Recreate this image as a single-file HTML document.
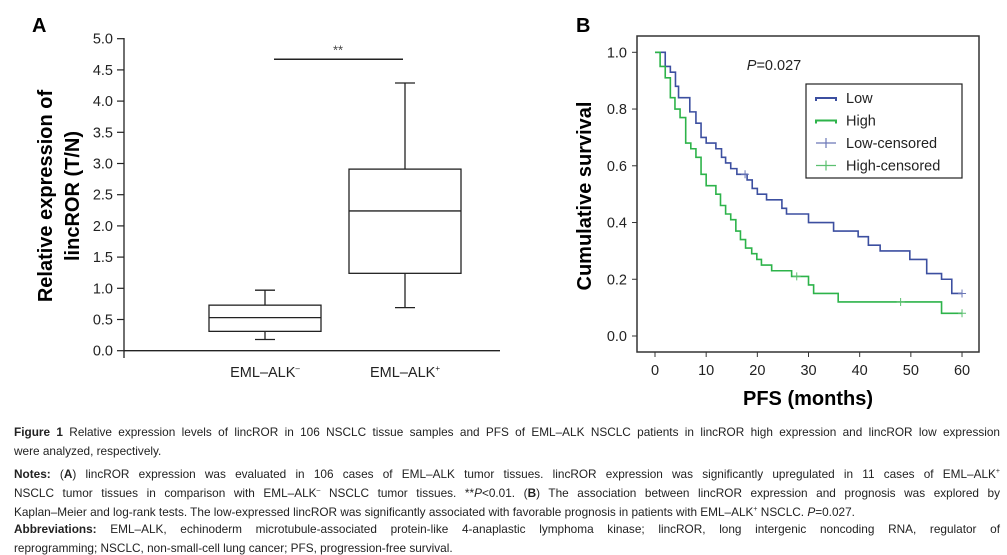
<!DOCTYPE html>
<html><head><meta charset="utf-8"><style>
body{margin:0;width:1007px;height:555px;background:#fff;overflow:hidden;position:relative;font-family:"Liberation Sans",sans-serif}
svg{position:absolute;left:0;top:0}
.cap{position:absolute;left:14px;width:986px;font-size:11.8px;color:#222;white-space:nowrap;line-height:14px}
.j{text-align:justify;text-align-last:justify;white-space:normal}
</style></head><body>
<svg id="chart" width="1007" height="415"></svg>
<div class="cap j" style="top:425px"><b>Figure 1</b> Relative expression levels of lincROR in 106 NSCLC tissue samples and PFS of EML–ALK NSCLC patients in lincROR high expression and lincROR low expression</div>
<div class="cap" style="top:444px">were analyzed, respectively.</div>
<div class="cap j" style="top:465px"><b>Notes:</b> (<b>A</b>) lincROR expression was evaluated in 106 cases of EML–ALK tumor tissues. lincROR expression was significantly upregulated in 11 cases of EML–ALK<sup style="font-size:7px">+</sup></div>
<div class="cap j" style="top:484px">NSCLC tumor tissues in comparison with EML–ALK<sup style="font-size:7px">–</sup> NSCLC tumor tissues. **<i>P</i>&lt;0.01. (<b>B</b>) The association between lincROR expression and prognosis was explored by</div>
<div class="cap" style="top:503px">Kaplan–Meier and log-rank tests. The low-expressed lincROR was significantly associated with favorable prognosis in patients with EML–ALK<sup style="font-size:7px">+</sup> NSCLC. <i>P</i>=0.027.</div>
<div class="cap j" style="top:522px"><b>Abbreviations:</b> EML–ALK, echinoderm microtubule-associated protein-like 4-anaplastic lymphoma kinase; lincROR, long intergenic noncoding RNA, regulator of</div>
<div class="cap" style="top:541px">reprogramming; NSCLC, non-small-cell lung cancer; PFS, progression-free survival.</div>
<script>
const boxCategories=["EML–ALK–","EML–ALK+"];
const boxMin=[0.18,0.69];
const boxQ1=[0.31,1.24];
const boxMedian=[0.53,2.24];
const boxQ3=[0.73,2.91];
const boxMax=[0.97,4.29];
const boxTicks=[0,0.5,1,1.5,2,2.5,3,3.5,4,4.5,5];
const sigLevel=4.67;
const lowTimes=[0,2,3,4,4.6,6.8,8,9,10,11.9,13,13.8,14.8,16,18,19,20,21.8,24.8,25.7,30,34.9,39.7,41.7,44,49.8,53.1,56,58,60];
const lowSurv=[1,0.95,0.93,0.88,0.84,0.79,0.75,0.70,0.68,0.66,0.63,0.61,0.59,0.57,0.55,0.52,0.50,0.48,0.45,0.43,0.40,0.37,0.35,0.32,0.30,0.27,0.22,0.20,0.15,0.15];
const highTimes=[0,1,2,3,3.9,4.9,6,7,8,9,10,11.9,12.8,13.8,14.8,15.8,16.7,17.7,18.9,19.9,20.8,22.8,26.7,30,31,35.8,56,60];
const highSurv=[1,0.95,0.91,0.84,0.80,0.77,0.68,0.66,0.63,0.57,0.53,0.50,0.46,0.43,0.41,0.37,0.34,0.31,0.29,0.27,0.25,0.23,0.21,0.18,0.15,0.12,0.08,0.08];
const lowCensor=[17.6,60];
const highCensor=[27.7,48,60];
const kmXTicks=[0,10,20,30,40,50,60];
const kmYTicks=[0,0.2,0.4,0.6,0.8,1.0];
const NS="http://www.w3.org/2000/svg";
const svg=document.getElementById('chart');
function mk(t,a,txt){const e=document.createElementNS(NS,t);for(const k in a)e.setAttribute(k,a[k]);if(txt!==undefined)e.textContent=txt;svg.appendChild(e);return e;}
// Panel A
const ay=v=>350.7-v*62.4;
const acx=[265,405];
let e;
e=mk('text',{x:32,y:32,'font-size':20,'font-weight':'bold'},'A');

e=mk('line',{x1:124,y1:38,x2:124,y2:358,stroke:'#222','stroke-width':1.3});

e=mk('line',{x1:124,y1:ay(0),x2:500,y2:ay(0),stroke:'#222','stroke-width':1.3});

boxTicks.forEach(t=>{
 mk('line',{x1:117,y1:ay(t),x2:124,y2:ay(t),stroke:'#222','stroke-width':1.2});
 e=mk('text',{x:113,y:ay(t)+5,'font-size':14.5,'text-anchor':'end',fill:'#222'},t.toFixed(1));
 
});
e=mk('text',{transform:'translate(52,196) rotate(-90)','font-size':20,'font-weight':'bold','text-anchor':'middle'},'Relative expression of');

e=mk('text',{transform:'translate(79,196) rotate(-90)','font-size':20,'font-weight':'bold','text-anchor':'middle'},'lincROR (T/N)');

boxCategories.forEach((c,i)=>{
 const x=acx[i],hw=56;
 const g=document.createElementNS(NS,'g');svg.appendChild(g);
 
 const add=(t,a)=>{const el=document.createElementNS(NS,t);for(const k in a)el.setAttribute(k,a[k]);g.appendChild(el);};
 const st={stroke:'#222','stroke-width':1.3,fill:'none'};
 add('line',{x1:x,y1:ay(boxMax[i]),x2:x,y2:ay(boxQ3[i]),...st});
 add('line',{x1:x,y1:ay(boxMin[i]),x2:x,y2:ay(boxQ1[i]),...st});
 add('line',{x1:x-10,y1:ay(boxMax[i]),x2:x+10,y2:ay(boxMax[i]),...st});
 add('line',{x1:x-10,y1:ay(boxMin[i]),x2:x+10,y2:ay(boxMin[i]),...st});
 add('rect',{x:x-hw,y:ay(boxQ3[i]),width:2*hw,height:ay(boxQ1[i])-ay(boxQ3[i]),...st});
 add('line',{x1:x-hw,y1:ay(boxMedian[i]),x2:x+hw,y2:ay(boxMedian[i]),...st});
 e=mk('text',{x:x,y:377,'font-size':14.5,'text-anchor':'middle',fill:'#222'},c.slice(0,-1));
 
 const ts=document.createElementNS(NS,'tspan');ts.setAttribute('font-size',8);ts.setAttribute('dy',-6);ts.textContent=c.slice(-1);e.appendChild(ts);
});
e=mk('line',{x1:274,y1:ay(sigLevel),x2:403,y2:ay(sigLevel),stroke:'#222','stroke-width':1.5});

e=mk('text',{x:338,y:ay(sigLevel)-5,'font-size':13,'text-anchor':'middle',fill:'#444'},'**');

// Panel B
const bx=m=>655+m*5.117, by=v=>336-v*283.7;
e=mk('text',{x:576,y:32,'font-size':20,'font-weight':'bold'},'B');

e=mk('rect',{x:637,y:36,width:342,height:316,fill:'none',stroke:'#333','stroke-width':1.5});

kmYTicks.forEach(t=>{
 mk('line',{x1:632,y1:by(t),x2:637,y2:by(t),stroke:'#333'});
 e=mk('text',{x:627,y:by(t)+5,'font-size':14.5,'text-anchor':'end',fill:'#222'},t.toFixed(1));
 
});
kmXTicks.forEach(t=>{
 mk('line',{x1:bx(t),y1:352,x2:bx(t),y2:357,stroke:'#333'});
 e=mk('text',{x:bx(t),y:375,'font-size':14.5,'text-anchor':'middle',fill:'#222'},t);
 
});
e=mk('text',{x:808,y:405,'font-size':20,'font-weight':'bold','text-anchor':'middle'},'PFS (months)');

e=mk('text',{transform:'translate(591,196) rotate(-90)','font-size':20,'font-weight':'bold','text-anchor':'middle'},'Cumulative survival');

function stepPath(T,S){let d='M'+bx(T[0])+','+by(S[0]);for(let i=1;i<T.length;i++){d+=' H'+bx(T[i])+' V'+by(S[i]);}return d;}
function survAt(T,S,t){let s=S[0];for(let i=0;i<T.length;i++){if(T[i]<=t)s=S[i];}return s;}
e=mk('path',{d:stepPath(lowTimes,lowSurv),fill:'none',stroke:'#3c4fa0','stroke-width':1.6});

e=mk('path',{d:stepPath(highTimes,highSurv),fill:'none',stroke:'#2db34a','stroke-width':1.6});

lowCensor.forEach(t=>{const x=bx(t),y=by(survAt(lowTimes,lowSurv,t));
 e=mk('path',{d:`M${x-4},${y}H${x+4}M${x},${y-4}V${y+4}`,stroke:'#6c78b8','stroke-width':1});
 });
highCensor.forEach(t=>{const x=bx(t),y=by(survAt(highTimes,highSurv,t));
 e=mk('path',{d:`M${x-4},${y}H${x+4}M${x},${y-4}V${y+4}`,stroke:'#5cc070','stroke-width':1});
 });
e=mk('text',{x:774,y:70,'font-size':14.5,'text-anchor':'middle',fill:'#222'});
e.innerHTML='<tspan font-style="italic">P</tspan>=0.027';

const lg=document.createElementNS(NS,'g');svg.appendChild(lg);

e=mk('rect',{x:806,y:84,width:156,height:94,fill:'#fff',stroke:'#222','stroke-width':1.2});
const legItems=[['Low','#3c4fa0',0],['High','#2db34a',0],['Low-censored','#6c78b8',1],['High-censored','#5cc070',1]];
legItems.forEach((it,i)=>{const y=98+i*22.5;
 if(it[2]) e=mk('path',{d:`M816,${y}H836M826,${y-5}V${y+5}`,stroke:it[1],'stroke-width':1.2,fill:'none'});
 else e=mk('path',{d:`M816,${y+3}V${y}H836V${y+3}`,stroke:it[1],'stroke-width':2,fill:'none'});
 
 e=mk('text',{x:846,y:y+5,'font-size':14.5,fill:'#222'},it[0]);
 
});
</script>
</body></html>
